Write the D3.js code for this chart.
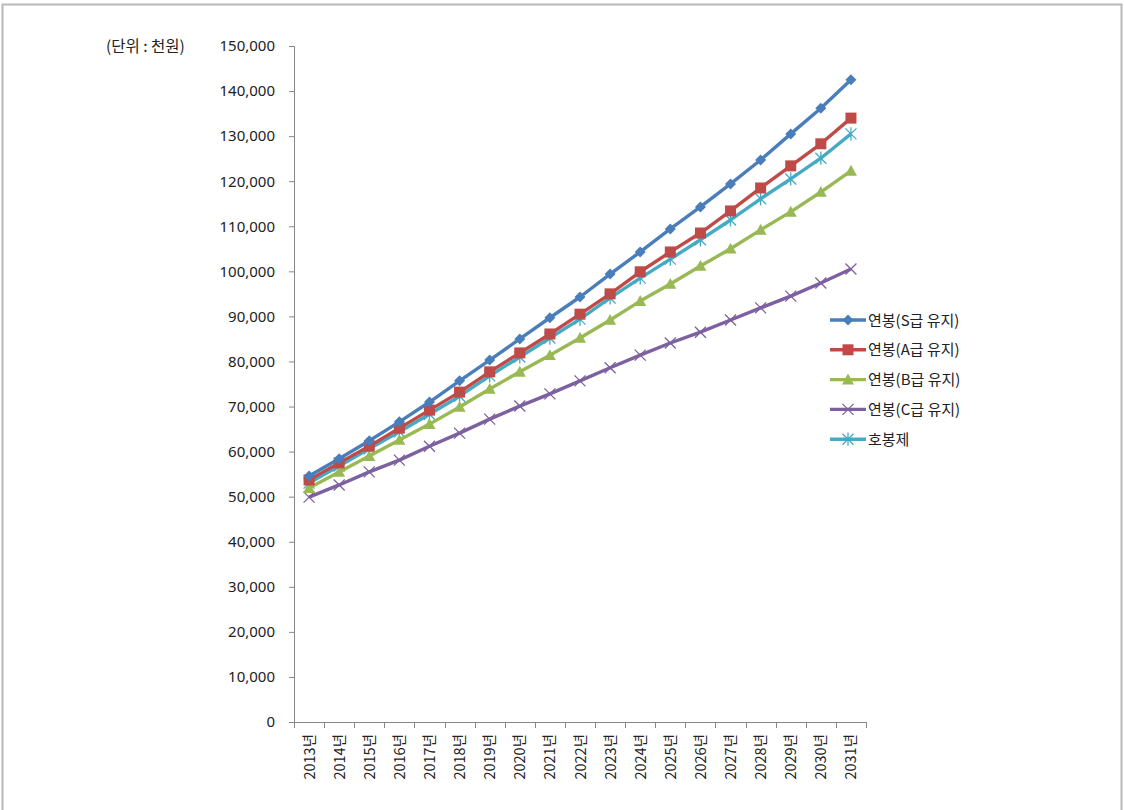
<!DOCTYPE html>
<html>
<head>
<meta charset="utf-8">
<script src="https://cdn.jsdelivr.net/npm/d3@7"></script>
<style>
  html, body { margin: 0; padding: 0; background: #fff; }
  svg { display: block; }
  text { font-family: "Noto Sans CJK KR", "Noto Sans", sans-serif; fill: #222; }
</style>
</head>
<body>
<svg id="chart" width="1124" height="810"></svg>
<script>
// Annual salary projections (unit: thousand won)
const years = ["2013년","2014년","2015년","2016년","2017년","2018년","2019년","2020년","2021년","2022년",
               "2023년","2024년","2025년","2026년","2027년","2028년","2029년","2030년","2031년"];

const salaryS = [54600,58400,62400,66600,71000,75700,80300,85000,89700,94300,
                 99400,104300,109400,114300,119400,124700,130500,136200,142500];
const salaryA = [53700,57500,61200,65200,69200,73200,77700,81900,86100,90500,
                 95000,99900,104300,108500,113400,118500,123400,128300,134000];
const salaryB = [51900,55500,59000,62600,66100,69900,73900,77700,81400,85200,
                 89200,93400,97200,101200,105000,109200,113200,117600,122300];
const salaryC = [49900,52600,55500,58100,61200,64100,67200,70100,72800,75700,
                 78600,81400,84100,86500,89200,91900,94500,97400,100500];
const seniority = [53000,56800,60600,64400,68300,72300,76800,81000,85200,89400,
                   94100,98500,102700,107000,111400,116100,120500,125100,130500];

const seriesNames = ["연봉(S급 유지)","연봉(A급 유지)","연봉(B급 유지)","연봉(C급 유지)","호봉제"];
const yTicks = d3.range(0, 150001, 10000);
const unitLabel = "(단위 : 천원)";

const series = [
  { name: seriesNames[0], values: salaryS,   color: "#4A7EBB", marker: "diamond" },
  { name: seriesNames[1], values: salaryA,   color: "#BE4B48", marker: "square" },
  { name: seriesNames[2], values: salaryB,   color: "#98B954", marker: "triangle" },
  { name: seriesNames[3], values: salaryC,   color: "#7D60A0", marker: "cross" },
  { name: seriesNames[4], values: seniority, color: "#46AAC5", marker: "star" }
];

const svg = d3.select("#chart");

// outer frame
svg.append("rect")
  .attr("x", 2.5).attr("y", 4.5).attr("width", 1119).attr("height", 810)
  .attr("fill", "none").attr("stroke", "#b8b8b8").attr("stroke-width", 2);

const plot = { left: 294, right: 866, top: 46, bottom: 722 };

const x = d3.scaleBand().domain(years).range([plot.left, plot.right]).padding(0);
const y = d3.scaleLinear().domain([0, 150000]).range([plot.bottom, plot.top]);

// y axis
const yAxis = svg.append("g")
  .attr("transform", `translate(${plot.left},0)`)
  .call(d3.axisLeft(y).tickValues(yTicks).tickSize(5).tickPadding(14)
        .tickFormat(d3.format(",")));
yAxis.select(".domain").attr("stroke", "#868686");
yAxis.selectAll(".tick line").attr("stroke", "#868686");
yAxis.selectAll("text").style("font-size", "15px").attr("fill", "#222")
  .style("font-family", "'Noto Sans', sans-serif");

// x axis: ticks at category boundaries
const xAxis = svg.append("g").attr("transform", `translate(0,${plot.bottom})`);
xAxis.append("line")
  .attr("x1", plot.left - 5).attr("x2", plot.right)
  .attr("y1", 0.5).attr("y2", 0.5).attr("stroke", "#868686");
const bounds = years.map(d => x(d)).concat([plot.right]);
xAxis.selectAll("line.b").data(bounds).join("line")
  .attr("class", "b")
  .attr("x1", d => Math.round(d) + 0.5).attr("x2", d => Math.round(d) + 0.5)
  .attr("y1", 0).attr("y2", 6).attr("stroke", "#868686");
xAxis.selectAll("text.yl").data(years).join("text")
  .attr("class", "yl")
  .attr("transform", d => `translate(${x(d) + x.bandwidth() / 2 + 5.5},12) rotate(-90)`)
  .attr("text-anchor", "end")
  .style("font-size", "14.5px")
  .text(d => d);

// unit label
svg.append("text").attr("x", 106).attr("y", 52)
  .style("font-size", "15.5px").text(unitLabel);

// marker shapes
function drawMarker(g, type, color, size) {
  const s = size;
  if (type === "diamond") {
    g.append("path").attr("d", `M0,${-s}L${s},0L0,${s}L${-s},0Z`).attr("fill", color);
  } else if (type === "square") {
    g.append("rect").attr("x", -s).attr("y", -s).attr("width", 2 * s).attr("height", 2 * s).attr("fill", color);
  } else if (type === "triangle") {
    g.append("path").attr("d", `M0,${-s}L${s},${s * 0.8}L${-s},${s * 0.8}Z`).attr("fill", color);
  } else if (type === "cross") {
    g.append("path").attr("d", `M${-s},${-s}L${s},${s}M${-s},${s}L${s},${-s}`)
      .attr("stroke", color).attr("stroke-width", 1.3).attr("fill", "none");
  } else if (type === "star") {
    g.append("path").attr("d", `M${-s},${-s}L${s},${s}M${-s},${s}L${s},${-s}M0,${-s * 1.2}L0,${s * 1.2}`)
      .attr("stroke", color).attr("stroke-width", 1.3).attr("fill", "none");
  }
}

const markerSize = { diamond: 5.5, square: 5.5, triangle: 6, cross: 5.5, star: 5.5 };

const line = d3.line()
  .x((d, i) => x(years[i]) + x.bandwidth() / 2)
  .y(d => y(d));

// draw in reverse so the S-series sits on top
[...series].reverse().forEach(s => {
  const g = svg.append("g");
  g.append("path").datum(s.values)
    .attr("d", line).attr("fill", "none")
    .attr("stroke", s.color).attr("stroke-width", 3.4)
    .attr("stroke-linejoin", "round");
  s.values.forEach((v, i) => {
    const m = g.append("g")
      .attr("transform", `translate(${x(years[i]) + x.bandwidth() / 2},${y(v)})`);
    drawMarker(m, s.marker, s.color, markerSize[s.marker]);
  });
});

// legend
const legend = svg.append("g").attr("transform", "translate(830,320)");
series.forEach((s, i) => {
  const row = legend.append("g").attr("transform", `translate(0,${i * 29.8})`);
  row.append("line").attr("x1", 0).attr("x2", 36).attr("y1", 0).attr("y2", 0)
    .attr("stroke", s.color).attr("stroke-width", 3.4);
  const m = row.append("g").attr("transform", "translate(18,0)");
  drawMarker(m, s.marker, s.color, markerSize[s.marker]);
  row.append("text").attr("x", 38).attr("y", 5.5)
    .style("font-size", "15px").text(s.name);
});
</script>
</body>
</html>
